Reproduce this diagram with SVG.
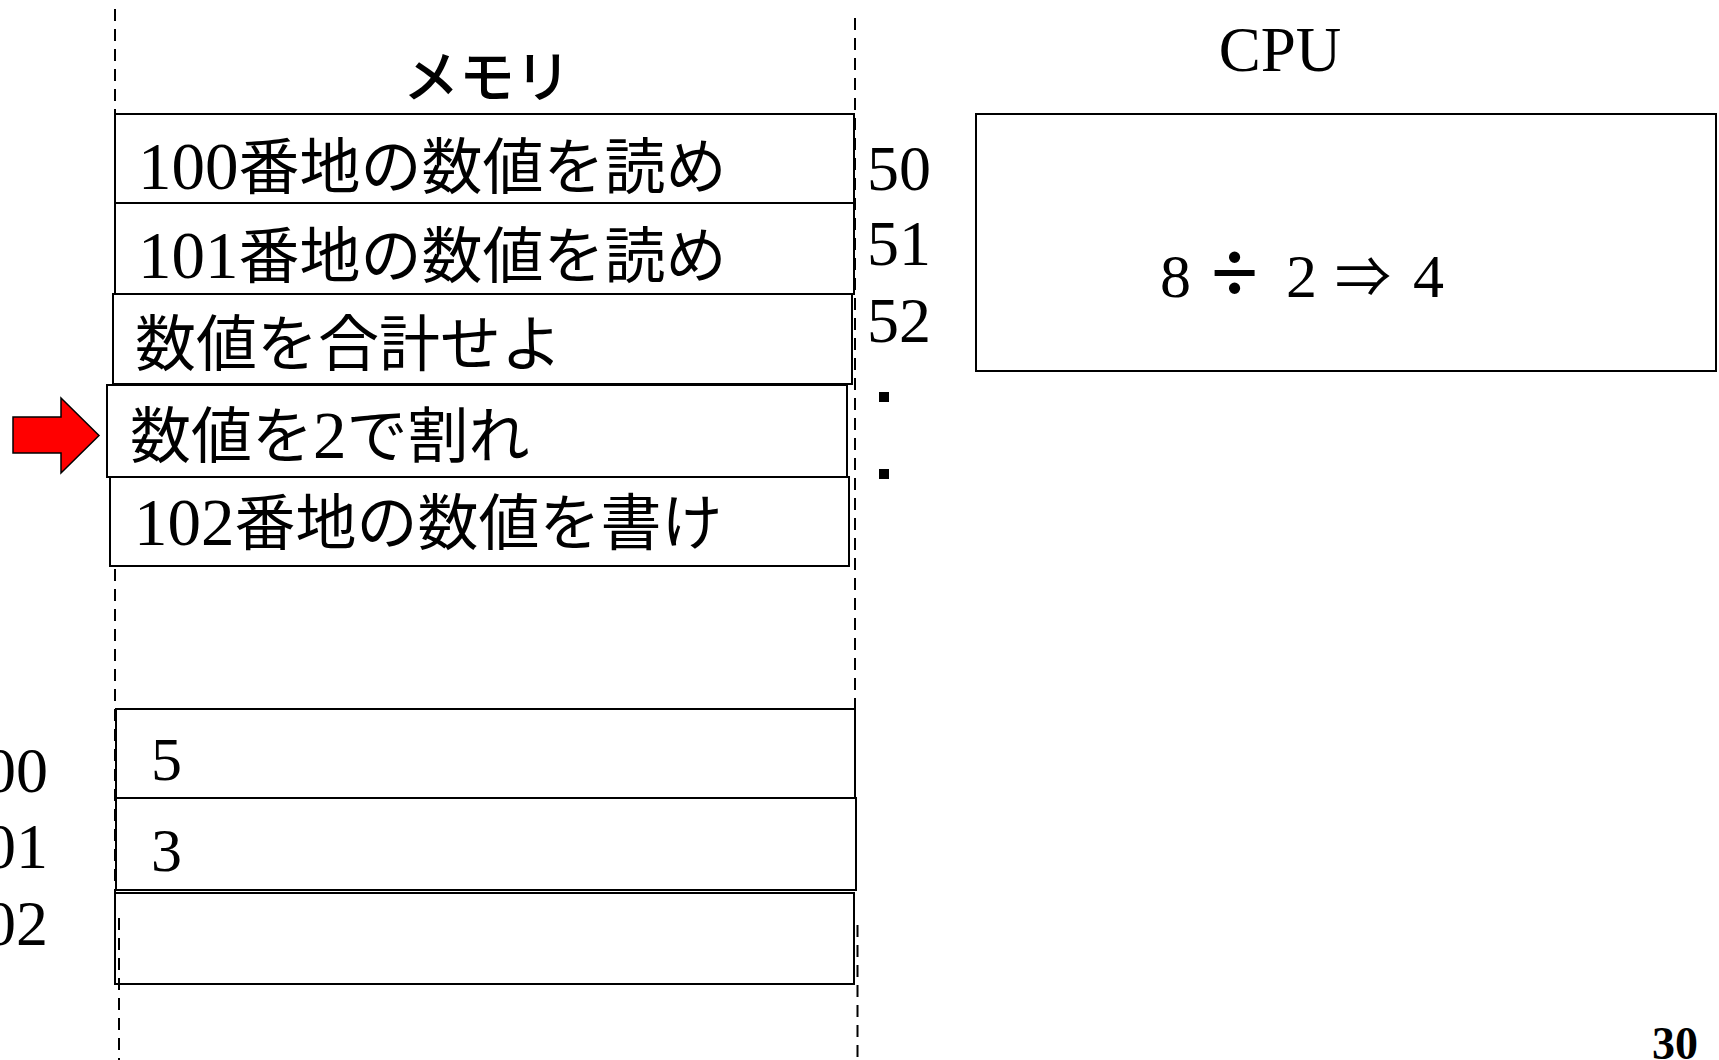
<svg xmlns="http://www.w3.org/2000/svg" width="1719" height="1060" viewBox="0 0 1719 1060">
<style>
.box{fill:#fff;stroke:#000;stroke-width:2}
.dash{fill:none;stroke:#000;stroke-width:2;stroke-dasharray:12 8}
.num{font-family:"Liberation Serif","Times New Roman",serif;fill:#000}
.jp{font-family:"Noto Sans CJK JP",sans-serif;fill:#000}
</style>
<rect width="1719" height="1060" fill="#fff"/>
<g id="guides">
<line class="dash" x1="115" y1="9" x2="115" y2="893"/>
<line class="dash" x1="855" y1="18" x2="855" y2="893"/>
</g>
<text class="jp" x="487" y="97" font-size="56" font-weight="500" text-anchor="middle">メモリ</text>
<g id="mem50"><rect class="box" x="115" y="114" width="739" height="89"/><text x="138" y="189"><tspan class="num" font-size="67">100</tspan><tspan class="jp" font-size="61">番地の数値を読め</tspan></text></g>
<g id="mem51"><rect class="box" x="115" y="203" width="739" height="91"/><text x="138" y="278"><tspan class="num" font-size="67">101</tspan><tspan class="jp" font-size="61">番地の数値を読め</tspan></text></g>
<g id="mem52"><rect class="box" x="113" y="294" width="739" height="90"/><text class="jp" x="135" y="366" font-size="61">数値を合計せよ</text></g>
<g id="mem53"><rect class="box" x="107" y="385" width="740" height="92"/><text x="130" y="458"><tspan class="jp" font-size="61">数値を</tspan><tspan class="num" font-size="67">2</tspan><tspan class="jp" font-size="61">で割れ</tspan></text></g>
<g id="mem54"><rect class="box" x="110" y="477" width="739" height="89"/><text x="134" y="545"><tspan class="num" font-size="67">102</tspan><tspan class="jp" font-size="61">番地の数値を書け</tspan></text></g>
<g id="addr-instr">
<text class="num" x="867" y="190" font-size="64">50</text>
<text class="num" x="867" y="265" font-size="64">51</text>
<text class="num" x="867" y="342" font-size="64">52</text>
<rect x="879" y="392" width="10" height="10" fill="#000"/>
<rect x="879" y="469" width="10" height="10" fill="#000"/>
</g>
<g id="mem100"><rect class="box" x="116" y="709" width="739" height="89"/><text class="num" x="151" y="780" font-size="62">5</text></g>
<g id="mem101"><rect class="box" x="116" y="798" width="740" height="92"/><text class="num" x="151" y="871" font-size="62">3</text></g>
<g id="mem102"><rect class="box" x="115" y="893" width="739" height="91"/></g>
<g id="addr-data">
<text class="num" x="48" y="792" font-size="64" text-anchor="end">100</text>
<text class="num" x="48" y="868" font-size="64" text-anchor="end">101</text>
<text class="num" x="48" y="945" font-size="64" text-anchor="end">102</text>
</g>
<g id="guides-lower">
<line class="dash" x1="119" y1="918" x2="119" y2="1060"/>
<line class="dash" x1="857.5" y1="925" x2="857.5" y2="1060"/>
</g>
<g id="cpu">
<text class="num" x="1280" y="71" font-size="63" text-anchor="middle">CPU</text>
<rect class="box" x="976" y="114" width="740" height="257"/>
<text y="297" font-size="62"><tspan class="num" x="1160">8 </tspan><tspan class="num" x="1211" y="302" font-size="86" font-weight="bold">÷ </tspan><tspan class="num" x="1286" y="297">2 </tspan><tspan class="jp" x="1335" font-size="56">⇒ </tspan><tspan class="num" x="1413">4</tspan></text>
</g>
<g id="connectors">
<polygon points="13,417 61,417 61,398 99,435.5 61,473 61,453 13,453" fill="#ff0000" stroke="#000" stroke-width="1.5"/>
</g>
<text class="num" x="1652" y="1059" font-size="46" font-weight="bold">30</text>
</svg>
